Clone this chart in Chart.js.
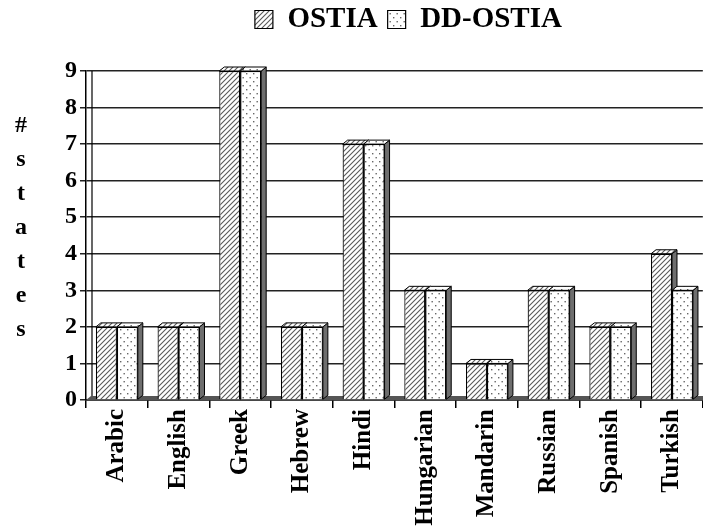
<!DOCTYPE html>
<html><head><meta charset="utf-8">
<script src="https://cdn.jsdelivr.net/npm/chart.js@4.4.0/dist/chart.umd.min.js"></script>
<style>html,body{margin:0;padding:0;background:#fff;overflow:hidden}#wrap{width:703px;height:527px;position:relative}</style>
</head><body><div id="wrap"><canvas id="c"></canvas></div>
<script>
const categories = ['Arabic','English','Greek','Hebrew','Hindi','Hungarian','Mandarin','Russian','Spanish','Turkish'];
const ostiaValues = [2,2,9,2,7,3,1,3,2,4];
const ddOstiaValues = [2,2,9,2,7,3,1,3,2,3];
const seriesNames = ['OSTIA','DD-OSTIA'];
const yTickValues = [0,1,2,3,4,5,6,7,8,9];
const yTitleLetters = ['#','s','t','a','t','e','s'];

const canvas = document.getElementById('c');
const mainCtx = canvas.getContext('2d');

function makeHatch(){
  const c = document.createElement('canvas'); c.width = 5; c.height = 5;
  const g = c.getContext('2d');
  g.fillStyle = '#fff'; g.fillRect(0,0,5,5);
  g.strokeStyle = '#5a5a5a'; g.lineWidth = 1.1;
  g.beginPath();
  g.moveTo(-1,6); g.lineTo(6,-1);
  g.moveTo(-1,1); g.lineTo(1,-1);
  g.moveTo(4,6); g.lineTo(6,4);
  g.stroke();
  return mainCtx.createPattern(c,'repeat');
}
function makeDots(){
  const c = document.createElement('canvas'); c.width = 7; c.height = 8;
  const g = c.getContext('2d');
  g.fillStyle = '#fff'; g.fillRect(0,0,7,8);
  g.fillStyle = '#666';
  g.fillRect(1,1,1.4,1.4);
  g.fillRect(4.5,5,1.4,1.4);
  return mainCtx.createPattern(c,'repeat');
}
const hatch = makeHatch();
const dots = makeDots();
const DX = 5, DY = 4;
const serif = 'Liberation Serif';

const depthPlugin = {
  id: 'depth3d',
  afterLayout(chart){
    const lg = chart.legend;
    if (lg){ lg.left += 14; lg.right += 14; }
  },
  beforeDatasetsDraw(chart){
    const ctx = chart.ctx;
    const {left, right, top, bottom} = chart.chartArea;
    ctx.save();
    ctx.strokeStyle = '#000'; ctx.lineWidth = 1.2;
    ctx.beginPath(); ctx.moveTo(left+DX+1, top); ctx.lineTo(left+DX+1, bottom-DY); ctx.stroke();
    ctx.fillStyle = '#555';
    ctx.beginPath();
    ctx.moveTo(left, bottom); ctx.lineTo(right, bottom);
    ctx.lineTo(right+DX, bottom-DY); ctx.lineTo(left+DX, bottom-DY);
    ctx.closePath(); ctx.fill();
    const metas = [chart.getDatasetMeta(0), chart.getDatasetMeta(1)];
    const fills = [hatch, dots];
    for (let i = 0; i < categories.length; i++){
      for (let d = 0; d < 2; d++){
        const el = metas[d].data[i];
        if (!el) continue;
        const p = el.getProps(['x','y','base','width'], true);
        const l = p.x - p.width/2, r = p.x + p.width/2, t = p.y, b = p.base;
        ctx.lineWidth = 1; ctx.strokeStyle = '#000';
        ctx.fillStyle = '#6e6e6e';
        ctx.beginPath();
        ctx.moveTo(r, t); ctx.lineTo(r+DX, t-DY); ctx.lineTo(r+DX, b-DY); ctx.lineTo(r, b);
        ctx.closePath(); ctx.fill(); ctx.stroke();
        ctx.fillStyle = fills[d];
        ctx.beginPath();
        ctx.moveTo(l, t); ctx.lineTo(l+DX, t-DY); ctx.lineTo(r+DX, t-DY); ctx.lineTo(r, t);
        ctx.closePath(); ctx.fill(); ctx.stroke();
      }
    }
    ctx.restore();
  },
  afterDraw(chart){
    const ctx = chart.ctx;
    ctx.save();
    ctx.fillStyle = '#000';
    ctx.font = 'bold 24px "' + serif + '"';
    ctx.textAlign = 'center'; ctx.textBaseline = 'middle';
    const y0 = 126, step = 34;
    yTitleLetters.forEach((ch, k) => ctx.fillText(ch, 21, y0 + k*step));
    ctx.restore();
  }
};

new Chart(canvas, {
  type: 'bar',
  data: {
    labels: categories,
    datasets: [
      {label: seriesNames[0], data: ostiaValues, backgroundColor: hatch, borderColor: '#000', borderWidth: 1.2, barPercentage: 1, categoryPercentage: 0.68},
      {label: seriesNames[1], data: ddOstiaValues, backgroundColor: dots, borderColor: '#000', borderWidth: 1.2, barPercentage: 1, categoryPercentage: 0.68}
    ]
  },
  plugins: [depthPlugin],
  options: {
    responsive: true,
    maintainAspectRatio: false,
    animation: false,
    layout: {padding: {top: -5, right: 0, left: 0, bottom: 0}},
    plugins: {
      tooltip: {enabled: false},
      legend: {
        position: 'top',
        fullSize: false,
        labels: {
          font: {family: serif, weight: 'bold', size: 29},
          color: '#000',
          boxWidth: 18, boxHeight: 18,
          padding: 10
        }
      },
      subtitle: {
        display: true,
        text: ' ',
        weight: 500,
        position: 'top',
        font: {size: 10},
        padding: {top: 2, bottom: 13}
      }
    },
    scales: {
      x: {
        type: 'category',
        offset: true,
        grid: {offset: true, drawOnChartArea: false, drawTicks: true, tickLength: 8, color: '#000', lineWidth: 1.5},
        border: {color: '#000', width: 1.5},
        ticks: {minRotation: 90, maxRotation: 90, autoSkip: false, font: {family: serif, weight: 'bold', size: 25}, color: '#000', padding: 1},
        afterFit(s){ s.height = 127; }
      },
      y: {
        min: 0, max: 9,
        afterBuildTicks(s){ s.ticks = yTickValues.map(v => ({value: v})); },
        grid: {color: '#222', lineWidth: 1.5, tickLength: 6},
        border: {color: '#000', width: 1.5},
        ticks: {font: {family: serif, weight: 'bold', size: 24}, color: '#000', padding: 3},
        afterFit(s){ s.width = 86; }
      }
    }
  }
});
</script></body></html>
